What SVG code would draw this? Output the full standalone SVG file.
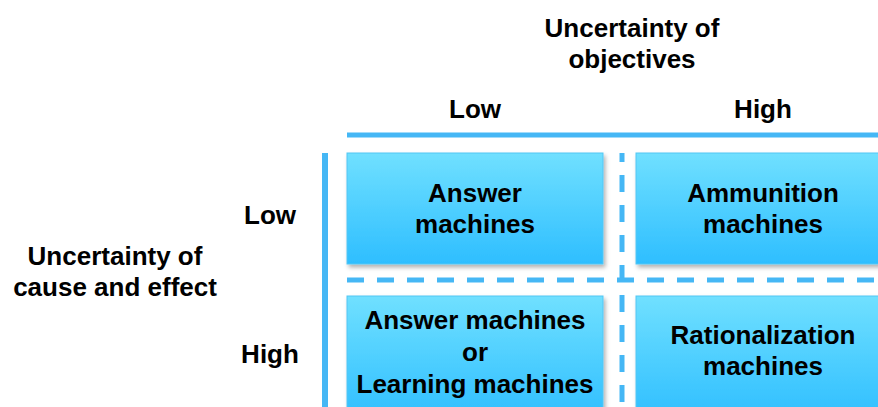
<svg xmlns="http://www.w3.org/2000/svg" width="878" height="407" viewBox="0 0 878 407">
<style>
.t{font-family:"Liberation Sans",Arial,sans-serif;font-weight:bold;font-size:26px;fill:#000;text-anchor:middle}
.box{fill:url(#g);stroke:#52C6F4;stroke-width:1}
.solid{stroke:#45B7F5;fill:none}
.dash{stroke:#45B7F5;stroke-width:5;fill:none;stroke-dasharray:17 13}
</style>
<defs>
<linearGradient id="g" x1="0" y1="0" x2="0" y2="1">
<stop offset="0" stop-color="#70E0FF"/>
<stop offset="1" stop-color="#2EBEFF"/>
</linearGradient>
<filter id="sh" x="-10%" y="-10%" width="130%" height="140%">
<feDropShadow dx="2" dy="3" stdDeviation="2" flood-color="#000" flood-opacity="0.3"/>
</filter>
</defs>
<rect width="878" height="407" fill="#fff"/>
<g id="axis-labels">
<text class="t" x="632" y="37">Uncertainty of</text>
<text class="t" x="632" y="68">objectives</text>
<text class="t" x="475" y="118">Low</text>
<text class="t" x="763" y="118">High</text>
<text class="t" x="270" y="224">Low</text>
<text class="t" x="270" y="363">High</text>
<text class="t" x="115" y="265">Uncertainty of</text>
<text class="t" x="115" y="296">cause and effect</text>
</g>
<g id="connectors">
<line class="solid" x1="347" y1="135" x2="878" y2="135" stroke-width="5"/>
<line class="solid" x1="325" y1="153" x2="325" y2="407" stroke-width="6"/>
<line class="dash" x1="622" y1="153" x2="622" y2="407" stroke-dashoffset="8"/>
<line class="dash" x1="347" y1="280" x2="878" y2="280"/>
</g>
<g id="answer-machines">
<rect class="box" x="347" y="153" width="256" height="111" filter="url(#sh)"/>
<text class="t" x="475" y="202">Answer</text>
<text class="t" x="475" y="233">machines</text>
</g>
<g id="ammunition-machines">
<rect class="box" x="636" y="153" width="256" height="111" filter="url(#sh)"/>
<text class="t" x="763" y="202">Ammunition</text>
<text class="t" x="763" y="233">machines</text>
</g>
<g id="learning-machines">
<rect class="box" x="347" y="296" width="256" height="125" filter="url(#sh)"/>
<text class="t" x="475" y="329">Answer machines</text>
<text class="t" x="475" y="361">or</text>
<text class="t" x="475" y="393">Learning machines</text>
</g>
<g id="rationalization-machines">
<rect class="box" x="636" y="296" width="256" height="125" filter="url(#sh)"/>
<text class="t" x="763" y="344">Rationalization</text>
<text class="t" x="763" y="375">machines</text>
</g>
</svg>
